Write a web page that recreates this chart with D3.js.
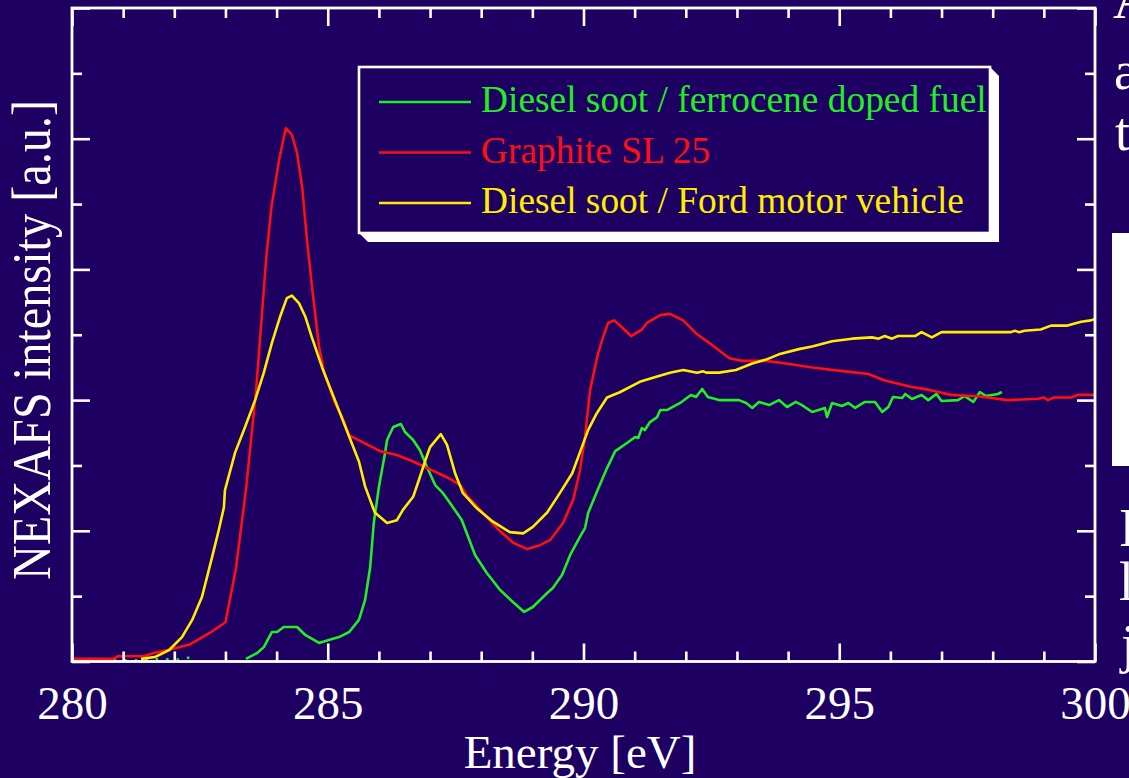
<!DOCTYPE html>
<html><head><meta charset="utf-8">
<script src="https://cdn.jsdelivr.net/npm/d3@7"></script>
<style>html,body{margin:0;padding:0;background:#1d0062;overflow:hidden}svg{display:block}</style>
</head><body>
<svg id="c" width="1129" height="778"></svg>
<script>
// ---- data ----
const energyMajorTicks = [280, 285, 290, 295, 300];
const energyMinorTicks = d3.range(280, 301, 1);
const intensityMajorTicks = [0, 1, 2, 3, 4, 5];
const intensityMinorTicks = [0.5, 1.5, 2.5, 3.5, 4.5];
const seriesNames = ["Diesel soot / ferrocene doped fuel", "Graphite SL 25", "Diesel soot / Ford motor vehicle"];
const seriesColors = ["#22ee22", "#ff1010", "#ffee00"];

// Diesel soot / ferrocene doped fuel (low-energy part, mostly hidden by axis)
const greenLow = [[280.2,0.01],[280.8,0.01],[281.4,0.01],[281.8,0.02],[282.0,0.01],[282.3,0.03]];
const greenSoot = [
 [283.4,0.02],[283.62,0.065],[283.75,0.11],[283.91,0.226],[284.01,0.226],[284.14,0.264],[284.4,0.264],
 [284.56,0.203],[284.83,0.142],[285.02,0.165],[285.22,0.187],[285.42,0.226],[285.61,0.318],[285.73,0.471],
 [285.83,0.723],[285.9,1.06],[286.0,1.335],[286.12,1.595],[286.16,1.695],[286.28,1.794],[286.43,1.817],
 [286.51,1.756],[286.67,1.695],[286.8,1.618],[286.94,1.488],[287.1,1.35],[287.25,1.29],[287.39,1.213],
 [287.62,1.083],[287.88,0.815],[288.11,0.677],[288.37,0.547],[288.62,0.455],[288.84,0.379],[289.01,0.417],
 [289.29,0.524],[289.4,0.562],[289.58,0.662],[289.74,0.815],[289.93,0.953],[290.03,1.021],[290.09,1.136],
 [290.26,1.297],[290.46,1.48],[290.62,1.61],[290.85,1.672],[291.01,1.718],[291.07,1.71],[291.14,1.786],
 [291.2,1.771],[291.3,1.832],[291.44,1.87],[291.5,1.924],[291.63,1.924],[291.89,1.978],[292.1,2.039],
 [292.2,2.024],[292.32,2.085],[292.43,2.024],[292.65,2.0],[293.04,2.0],[293.18,1.978],[293.3,1.94],
 [293.43,1.986],[293.63,1.962],[293.82,2.0],[293.98,1.947],[294.15,1.986],[294.27,1.962],[294.47,1.909],
 [294.72,1.94],[294.76,1.87],[294.86,1.978],[295.05,1.955],[295.18,1.978],[295.31,1.94],[295.5,1.986],
 [295.7,1.986],[295.84,1.909],[295.96,1.947],[296.05,2.024],[296.23,2.016],[296.29,2.047],[296.42,2.008],
 [296.61,2.039],[296.74,2.0],[296.9,2.047],[297.0,1.993],[297.32,2.0],[297.45,2.031],[297.62,1.986],
 [297.75,2.062],[297.87,2.031],[298.1,2.047],[298.18,2.062]
];
// Graphite SL 25
const redGraphite = [
 [280.0,0.02],[280.8,0.02],[280.9,0.04],[281.4,0.04],[281.6,0.065],[281.9,0.09],[282.3,0.13],[282.7,0.22],
 [283.0,0.30],[283.2,0.70],[283.4,1.31],[283.6,2.08],[283.8,3.10],[283.9,3.48],[284.05,3.84],[284.18,4.08],
 [284.3,4.03],[284.4,3.89],[284.5,3.63],[284.6,3.20],[284.7,2.84],[284.83,2.41],[284.93,2.21],[285.14,1.98],
 [285.28,1.87],[285.42,1.73],[285.67,1.68],[285.92,1.63],[286.02,1.61],[286.35,1.58],[286.67,1.53],
 [287.0,1.47],[287.33,1.41],[287.59,1.35],[287.72,1.27],[287.98,1.16],[288.31,1.02],[288.62,0.91],
 [288.9,0.86],[289.15,0.89],[289.35,0.93],[289.6,1.06],[289.8,1.24],[289.93,1.46],[290.03,1.72],
 [290.13,2.08],[290.28,2.35],[290.38,2.48],[290.48,2.59],[290.6,2.61],[290.77,2.55],[290.93,2.49],
 [291.14,2.54],[291.24,2.59],[291.5,2.65],[291.69,2.66],[291.95,2.61],[292.2,2.51],[292.45,2.44],
 [292.85,2.32],[293.11,2.30],[293.57,2.30],[293.96,2.28],[294.47,2.25],[295.11,2.22],[295.57,2.20],
 [295.89,2.15],[296.42,2.10],[296.74,2.08],[297.19,2.04],[297.71,2.03],[298.3,2.00],[298.89,2.01],
 [299.0,2.02],[299.08,2.00],[299.2,2.02],[299.53,2.02],[299.66,2.04],[300.0,2.04]
];
// Diesel soot / Ford motor vehicle
const yellowFord = [
 [281.35,0.02],[281.62,0.034],[281.9,0.088],[282.15,0.187],[282.35,0.318],[282.54,0.493],[282.74,0.80],
 [282.87,1.006],[282.97,1.18],[282.99,1.31],[283.19,1.60],[283.38,1.79],[283.58,2.00],[283.75,2.21],
 [283.91,2.44],[284.07,2.64],[284.2,2.78],[284.3,2.80],[284.44,2.74],[284.56,2.64],[284.69,2.48],
 [284.89,2.25],[285.14,2.00],[285.42,1.72],[285.61,1.53],[285.73,1.34],[285.92,1.14],[286.16,1.06],
 [286.35,1.08],[286.47,1.16],[286.67,1.26],[286.8,1.41],[286.9,1.53],[287.0,1.64],[287.21,1.74],
 [287.33,1.66],[287.49,1.44],[287.64,1.29],[287.92,1.17],[288.23,1.07],[288.56,0.99],[288.82,0.98],
 [289.01,1.03],[289.29,1.14],[289.54,1.29],[289.78,1.44],[289.93,1.60],[290.09,1.77],[290.26,1.90],
 [290.46,2.02],[290.71,2.06],[291.1,2.14],[291.44,2.18],[291.69,2.21],[291.95,2.23],[292.22,2.21],
 [292.34,2.22],[292.4,2.21],[292.65,2.21],[292.98,2.23],[293.3,2.28],[293.57,2.31],[293.82,2.35],
 [294.21,2.39],[294.47,2.41],[294.86,2.45],[295.25,2.47],[295.64,2.48],[295.77,2.47],[295.89,2.49],
 [296.03,2.47],[296.15,2.49],[296.48,2.49],[296.61,2.52],[296.81,2.48],[297.0,2.52],[297.71,2.52],
 [298.36,2.52],[298.43,2.53],[298.52,2.52],[298.62,2.53],[298.94,2.54],[299.14,2.57],[299.46,2.57],
 [299.73,2.60],[299.92,2.61],[300.0,2.62]
];

// ---- drawing ----
const BG = "#1d0062";
const svg = d3.select("#c");
svg.append("rect").attr("width",1129).attr("height",778).attr("fill",BG);

const L = 72, R = 1095, T = 8, B = 661.5;
const x = d3.scaleLinear().domain([280,300]).range([L,R]);
const y = d3.scaleLinear().domain([0,5]).range([B,T]);
const serif = "'Liberation Serif','Times New Roman',serif";

const line = d3.line().x(d=>x(d[0])).y(d=>y(d[1]));
const curves = svg.append("g").attr("fill","none").attr("stroke-width",2.6).attr("stroke-linejoin","round");
curves.append("path").datum(greenLow).attr("d",line).attr("stroke",seriesColors[0]).attr("stroke-dasharray","2.5,8");
curves.append("path").datum(greenSoot).attr("d",line).attr("stroke",seriesColors[0]);
curves.append("path").datum(redGraphite).attr("d",line).attr("stroke",seriesColors[1]);
curves.append("path").datum(yellowFord).attr("d",line).attr("stroke",seriesColors[2]);

function styleAxis(g){
  g.select(".domain").remove();
  g.selectAll(".tick line").attr("stroke","#ffffff").attr("stroke-width",2.6);
  g.selectAll("text").attr("fill","#ffffff").attr("font-family",serif);
}
const minorE = energyMinorTicks.filter(v=>!energyMajorTicks.includes(v));
// bottom
svg.append("g").attr("transform",`translate(0,${B})`)
  .call(d3.axisBottom(x).tickValues(minorE).tickSize(-10).tickFormat(""))
  .call(styleAxis);
svg.append("g").attr("transform",`translate(0,${B})`)
  .call(d3.axisBottom(x).tickValues(energyMajorTicks).tickSize(-18).tickPadding(24).tickFormat(d3.format("d")))
  .call(styleAxis)
  .call(g=>g.selectAll("text").attr("font-size",47));
// top
svg.append("g").attr("transform",`translate(0,${T})`)
  .call(d3.axisTop(x).tickValues(minorE).tickSize(-10).tickFormat("")).call(styleAxis);
svg.append("g").attr("transform",`translate(0,${T})`)
  .call(d3.axisTop(x).tickValues(energyMajorTicks).tickSize(-18).tickFormat("")).call(styleAxis);
// left/right
svg.append("g").attr("transform",`translate(${L},0)`)
  .call(d3.axisLeft(y).tickValues(intensityMinorTicks).tickSize(-10).tickFormat("")).call(styleAxis);
svg.append("g").attr("transform",`translate(${L},0)`)
  .call(d3.axisLeft(y).tickValues(intensityMajorTicks).tickSize(-18).tickFormat("")).call(styleAxis);
svg.append("g").attr("transform",`translate(${R},0)`)
  .call(d3.axisRight(y).tickValues(intensityMinorTicks).tickSize(-10).tickFormat("")).call(styleAxis);
svg.append("g").attr("transform",`translate(${R},0)`)
  .call(d3.axisRight(y).tickValues(intensityMajorTicks).tickSize(-18).tickFormat("")).call(styleAxis);

// frame
svg.append("rect").attr("x",L).attr("y",T).attr("width",R-L).attr("height",B-T)
  .attr("fill","none").attr("stroke","#ffffff").attr("stroke-width",2.8);

// axis titles
svg.append("text").attr("x",580).attr("y",768).attr("text-anchor","middle")
  .attr("font-family",serif).attr("font-size",47).attr("fill","#ffffff").text("Energy [eV]");
svg.append("text").attr("transform","translate(50,340) rotate(-90)").attr("text-anchor","middle")
  .attr("font-family",serif).attr("font-size",54).attr("fill","#ffffff")
  .attr("textLength",480).attr("lengthAdjust","spacingAndGlyphs")
  .text("NEXAFS intensity [a.u.]");

// legend
const lg = svg.append("g");
const bx0 = 359, by0 = 67, bx1 = 990, by1 = 233, sh = 9;
lg.append("polygon").attr("points",
  `${bx1},${by0} ${bx1+sh},${by0+sh} ${bx1+sh},${by1+sh} ${bx0+sh},${by1+sh} ${bx0},${by1}`)
  .attr("fill","#ffffff");
lg.append("rect").attr("x",bx0).attr("y",by0).attr("width",bx1-bx0).attr("height",by1-by0)
  .attr("fill",BG).attr("stroke","#ffffff").attr("stroke-width",2.6);
seriesNames.forEach((name,i)=>{
  const yy = 102 + i*50.5;
  lg.append("line").attr("x1",379).attr("x2",471).attr("y1",yy).attr("y2",yy)
    .attr("stroke",seriesColors[i]).attr("stroke-width",2.6);
  lg.append("text").attr("x",481).attr("y",yy+10).attr("font-family",serif).attr("font-size",37.4)
    .attr("fill",seriesColors[i]).text(name);
});

// fragments of slide content cut at right edge
svg.append("rect").attr("x",1112).attr("y",233).attr("width",20).attr("height",233).attr("fill","#ffffff");
const frag = svg.append("g").attr("font-family",serif).attr("font-size",54).attr("fill","#ffffff");
[["A",1113,18],["a",1114,89],["t",1115,150],["I",1119,546],["l",1119,600],["j",1121,662]].forEach(d=>{
  frag.append("text").attr("x",d[1]).attr("y",d[2]).text(d[0]);
});
</script>
</body></html>
